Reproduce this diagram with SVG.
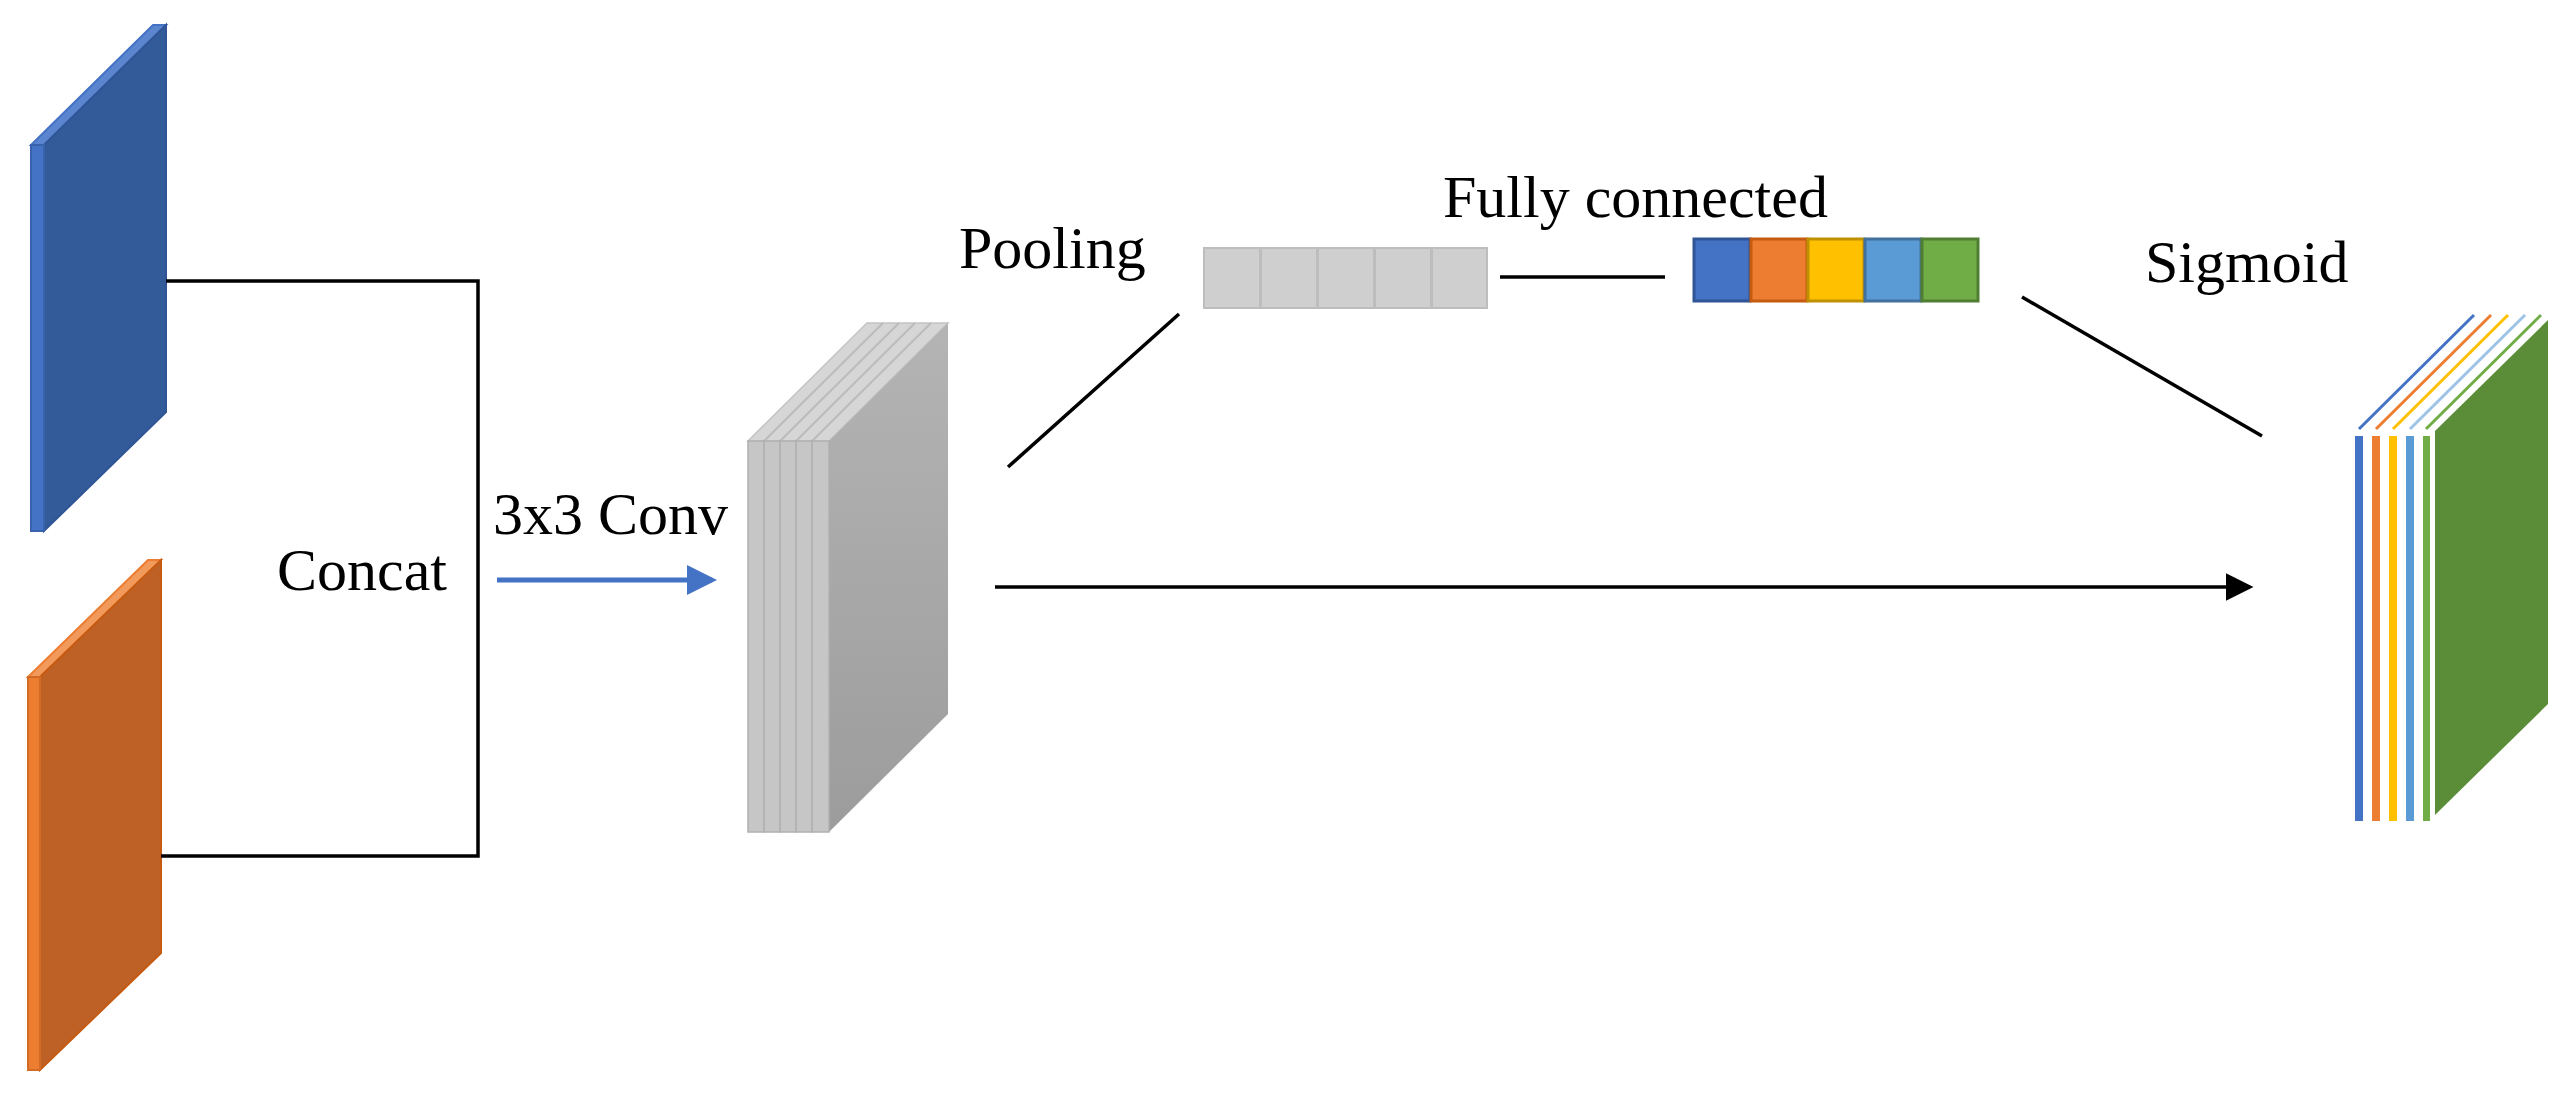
<svg xmlns="http://www.w3.org/2000/svg" width="2571" height="1095" viewBox="0 0 2571 1095">
<style>
text{font-family:"Liberation Serif","Times New Roman",serif;font-size:60px;fill:#000}
.ln{stroke:#000;stroke-width:3.5;fill:none}
.sl{fill:#c6c6c6;stroke:#b0b0b0;stroke-width:1.5}
.bx{fill:#cfcfcf;stroke:#bdbdbd;stroke-width:2}
</style>
<defs>
<marker id="ab" markerWidth="8" markerHeight="8" refX="7" refY="4" orient="auto" markerUnits="strokeWidth"><path d="M0,0L8,4L0,8z" fill="#000"/></marker>
<marker id="abb" markerWidth="6" markerHeight="6" refX="5" refY="3" orient="auto" markerUnits="strokeWidth"><path d="M0,0L6,3L0,6z" fill="#4472C4"/></marker>
<linearGradient id="gg" x1="0" y1="0" x2="0" y2="1"><stop offset="0" stop-color="#b4b4b4"/><stop offset="1" stop-color="#9c9c9c"/></linearGradient>
</defs>
<g id="input-blue">
<polygon points="31,145 153,25 166,25 44,145" fill="#5b86cf" stroke="#4472C4" stroke-width="2"/>
<polygon points="44,145 166,25 166,412 44,531" fill="#335A99" stroke="#2F5597" stroke-width="2"/>
<rect x="31" y="145" width="13" height="386" fill="#4472C4" stroke="#3a63ad" stroke-width="2"/>
</g>
<g id="input-orange">
<polygon points="28,677 148,560 161,560 40,677" fill="#f19a5c" stroke="#ED7D31" stroke-width="2"/>
<polygon points="40,677 161,560 161,953 40,1070" fill="#BE6127" stroke="#C55A11" stroke-width="2"/>
<rect x="28" y="677" width="12" height="393" fill="#ED7D31" stroke="#d46b25" stroke-width="2"/>
</g>
<g id="conv-stack">
<polygon points="748,441 867,323 948,323 829,441" fill="#d6d6d6" stroke="#c4c4c4" stroke-width="1.5"/>
<line x1="764" y1="441" x2="883" y2="323" stroke="#bbb" stroke-width="2"/>
<line x1="780" y1="441" x2="899" y2="323" stroke="#bbb" stroke-width="2"/>
<line x1="796" y1="441" x2="915" y2="323" stroke="#bbb" stroke-width="2"/>
<line x1="812" y1="441" x2="931" y2="323" stroke="#bbb" stroke-width="2"/>
<polygon points="829,441 948,323 948,714 829,832" fill="url(#gg)"/>
<rect class="sl" x="748" y="441" width="16" height="391"/>
<rect class="sl" x="764" y="441" width="16" height="391"/>
<rect class="sl" x="780" y="441" width="16" height="391"/>
<rect class="sl" x="796" y="441" width="16" height="391"/>
<rect class="sl" x="812" y="441" width="17" height="391"/>
</g>
<g id="pooling-vector">
<rect class="bx" x="1204" y="248" width="56" height="60"/>
<rect class="bx" x="1261" y="248" width="56" height="60"/>
<rect class="bx" x="1318" y="248" width="56" height="60"/>
<rect class="bx" x="1375" y="248" width="56" height="60"/>
<rect class="bx" x="1432" y="248" width="55" height="60"/>
</g>
<g id="fc-vector" stroke-width="3">
<rect x="1694" y="239" width="56" height="62" fill="#4472C4" stroke="#2F5597"/>
<rect x="1751" y="239" width="56" height="62" fill="#ED7D31" stroke="#C55A11"/>
<rect x="1808" y="239" width="56" height="62" fill="#FFC000" stroke="#BF9000"/>
<rect x="1865" y="239" width="56" height="62" fill="#5B9BD5" stroke="#41719C"/>
<rect x="1922" y="239" width="56" height="62" fill="#70AD47" stroke="#507E32"/>
</g>
<g id="output-stack">
<line x1="2359" y1="429" x2="2474" y2="315" stroke="#4472C4" stroke-width="3"/>
<line x1="2376" y1="429" x2="2491" y2="315" stroke="#ED7D31" stroke-width="3"/>
<line x1="2393" y1="429" x2="2508" y2="315" stroke="#FFC000" stroke-width="3"/>
<line x1="2410" y1="429" x2="2525" y2="315" stroke="#9DC3E6" stroke-width="3"/>
<line x1="2426" y1="429" x2="2541" y2="315" stroke="#70AD47" stroke-width="3"/>
<polygon points="2435,431 2548,320 2548,704 2435,815" fill="#5B8C38"/>
<rect x="2355" y="436" width="8" height="385" fill="#4472C4"/>
<rect x="2372" y="436" width="8" height="385" fill="#ED7D31"/>
<rect x="2389" y="436" width="8" height="385" fill="#FFC000"/>
<rect x="2406" y="436" width="8" height="385" fill="#5B9BD5"/>
<rect x="2423" y="436" width="7" height="385" fill="#70AD47"/>
</g>
<g id="connectors">
<polyline class="ln" points="166,281 478,281 478,856 161,856"/>
<line x1="497" y1="580" x2="712" y2="580" stroke="#4472C4" stroke-width="5" marker-end="url(#abb)"/>
<line class="ln" x1="1008" y1="467" x2="1179" y2="314"/>
<line class="ln" x1="1500" y1="277" x2="1665" y2="277"/>
<line class="ln" x1="2022" y1="297" x2="2262" y2="436"/>
<line class="ln" x1="995" y1="587" x2="2250" y2="587" marker-end="url(#ab)"/>
</g>
<g id="labels">
<text x="277" y="590">Concat</text>
<text x="493" y="534">3x3 Conv</text>
<text x="959" y="268">Pooling</text>
<text x="1443" y="217">Fully connected</text>
<text x="2145" y="282">Sigmoid</text>
</g>
</svg>
